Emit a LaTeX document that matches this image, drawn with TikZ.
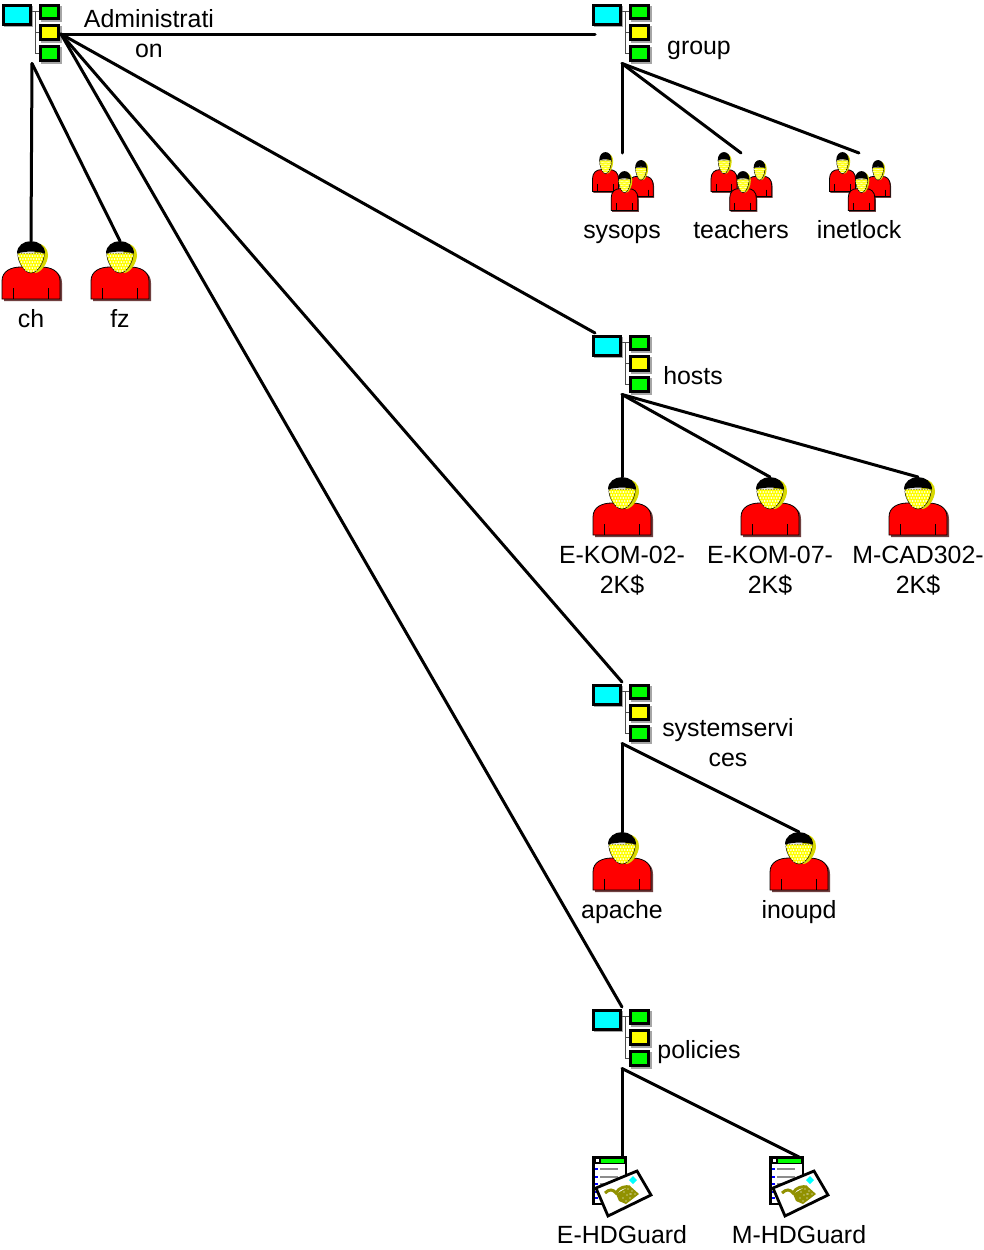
\documentclass[tikz,border=0pt]{standalone}
\usepackage{fontspec}
\setmainfont{Liberation Sans}
\definecolor{cy}{RGB}{0,255,255}
\definecolor{gr}{RGB}{0,255,0}
\definecolor{ye}{RGB}{255,255,0}
\definecolor{re}{RGB}{255,0,0}
\definecolor{ol}{RGB}{145,145,0}
\tikzset{
  x=1pt,y=-1pt,
  lbl/.style={font=\fontsize{24.9}{30}\selectfont,inner sep=0pt,align=center,anchor=base,text=black},
  conn/.style={line width=3pt,black,line cap=round},
  boxx/.style={draw=black,line width=3pt},
  shad/.style={fill=black!35},
  treeicon/.pic={
    \fill[shad] (3.5,6) rectangle (33,27);
    \fill[shad] (41,6) rectangle (62,22);
    \fill[shad] (41,26) rectangle (62,43);
    \fill[shad] (41,47) rectangle (62,64);
    \draw[black!70,line width=1pt] (31,11.5) -- (39,11.5);
    \draw[black!70,line width=1pt] (35,11.5) -- (35,53.5) -- (39,53.5);
    \draw[black!70,line width=1pt] (35,32.5) -- (39,32.5);
    \draw[boxx,fill=cy] (3,5.5) rectangle (30.5,24);
    \draw[boxx,fill=gr] (40.5,5.5) rectangle (58.5,18.5);
    \draw[boxx,fill=ye] (40.5,25.5) rectangle (58.5,39.5);
    \draw[boxx,fill=gr] (40.5,46.5) rectangle (58.5,60.5);
    \coordinate (-r) at (61,34);
    \coordinate (-l) at (5,34);
    \coordinate (-tl) at (5,2);
    \coordinate (-t) at (32,2);
    \coordinate (-b) at (32,63.5);
  },
  person/.pic={
    \fill[black!75!re,opacity=.75] (-27,60) -- (-27,42) .. controls (-27,31) and (-18,28) .. (-8,28) -- (10,28) .. controls (22,28) and (31,31) .. (31,42) -- (31,60) -- cycle;
    \draw[black,line width=.8pt,fill=re] (-29,58) -- (-29,40) .. controls (-29,30) and (-20,26) .. (-10,26) -- (10,26) .. controls (20,26) and (29,30) .. (29,40) -- (29,58) -- cycle;
    \draw[black,line width=.8pt] (-18,47) -- (-18,58) (17,47) -- (17,58);
    \fill[ye!85!black] (3,2) .. controls (13,2) and (17,8) .. (17,14) .. controls (17,22) and (10,32) .. (4,32) -- cycle;
    \draw[black,line width=.5pt,fill=ye] (-13,12) .. controls (-14,20) and (-7,32) .. (0,32) .. controls (7,32) and (14,20) .. (13,12) -- cycle;
    \begin{scope}
      \clip (-13,12) .. controls (-14,20) and (-7,32) .. (0,32) .. controls (7,32) and (14,20) .. (13,12) -- cycle;
      \foreach \yy in {0,1,...,6}{
        \foreach \xx in {-5,...,5}{
          \fill[white] ({\xx*2.7+mod(\yy,2)*1.35},{12+\yy*3}) circle[radius=.9];
        }
      }
    \end{scope}
    \fill[black] (-14,12.5) .. controls (-14,-4) and (14,-4) .. (14,12.5) .. controls (6,10) and (-6,10) .. (-14,12.5) -- cycle;
    \coordinate (-t) at (0,0);
  },
  crowd/.pic={
    \pic[xscale=.45,yscale=.68] at (-16.5,-1) {person};
    \pic[xscale=.42,yscale=.63] at (19,7) {person};
    \pic[xscale=.46,yscale=.68] at (2.5,18) {person};
  },
  docicon/.pic={
    \draw[black,line width=2.6pt,fill=white] (1.5,1.5) rectangle (34,48);
    \fill[black] (1.5,1.5) rectangle (34,8);
    \fill[white] (4,3) rectangle (7,6);
    \fill[gr] (9,2.5) rectangle (32,7);
    \foreach \yy in {13,21,28,36,42}{
      \fill[blue] (3,\yy-1) rectangle (5.5,\yy+1);
      \fill[black!45] (8,\yy-1.2) rectangle (26,\yy+1.2);
    }
    \draw[black,line width=2.8pt,fill=white] (4,32) -- (45,15) -- (59,39) -- (16,60) -- cycle;
    \fill[cy] (41,20) -- (45,24) -- (41,28) -- (37,24) -- cycle;
    \draw[ol,line width=3pt] (13,37) .. controls (17,33) and (21,33) .. (24,37) .. controls (27,31) and (34,30) .. (38,31);
    \fill[ol] (24,38) -- (38,30) -- (47,38) -- (34,48) -- (27,45) -- cycle;
    \foreach \px/\py in {28,38,32/36,36/33,40/35,31/42,35/39,39/38,43/38,34/45,38/42}{
      \fill[white] (\px,\py) circle[radius=.55];
    }
    \coordinate (-t) at (30,1);
  }
}
\begin{document}
\begin{tikzpicture}
\useasboundingbox (0,0) rectangle (984,1250);
\pic (adm) at (0,0) {treeicon};
\pic (grp) at (590,0) {treeicon};
\pic (hst) at (590,331) {treeicon};
\pic (svc) at (590,680) {treeicon};
\pic (pol) at (590,1005) {treeicon};
\pic (ch) at (31,241) {person};
\pic (fz) at (120,241) {person};
\pic (ekom2) at (622,477) {person};
\pic (ekom7) at (770,477) {person};
\pic (mcad) at (918,477) {person};
\pic (apache) at (622,832) {person};
\pic (inoupd) at (799,832) {person};
\pic at (622,153) {crowd};
\pic at (740.5,153) {crowd};
\pic at (859,153) {crowd};
\coordinate (sysops) at (622,153);
\coordinate (teachers) at (741,153);
\coordinate (inetlock) at (859,153);
\pic (ehd) at (592,1156) {docicon};
\pic (mhd) at (769,1156) {docicon};
\draw[conn] (adm-r) -- (grp-l);
\draw[conn] (adm-r) -- (hst-tl);
\draw[conn] (adm-r) -- (svc-t);
\draw[conn] (adm-r) -- (pol-t);
\draw[conn] (adm-b) -- (ch-t);
\draw[conn] (adm-b) -- (fz-t);
\draw[conn] (grp-b) -- (sysops);
\draw[conn] (grp-b) -- (teachers);
\draw[conn] (grp-b) -- (inetlock);
\draw[conn] (hst-b) -- (ekom2-t);
\draw[conn] (hst-b) -- (ekom7-t);
\draw[conn] (hst-b) -- (mcad-t);
\draw[conn] (svc-b) -- (apache-t);
\draw[conn] (svc-b) -- (inoupd-t);
\draw[conn] (pol-b) -- (ehd-t);
\draw[conn] (pol-b) -- (mhd-t);
\node[lbl] (tadm) at (149,57) {Administrati\\on};
\node[lbl] (tgrp) at (699,54) {group};
\node[lbl] (tsys) at (622,238) {sysops};
\node[lbl] (ttea) at (741,238) {teachers};
\node[lbl] (tine) at (859,238) {inetlock};
\node[lbl] (tch) at (31,327) {ch};
\node[lbl] (tfz) at (120,327) {fz};
\node[lbl] (thst) at (693,384) {hosts};
\node[lbl] (te2) at (622,593) {E-KOM-02-\\2K\$};
\node[lbl] (te7) at (770,593) {E-KOM-07-\\2K\$};
\node[lbl] (tm) at (918,593) {M-CAD302-\\2K\$};
\node[lbl] (tsvc) at (728,766) {systemservi\\ces};
\node[lbl] (tap) at (622,918) {apache};
\node[lbl] (tin) at (799,918) {inoupd};
\node[lbl] (tpol) at (699,1058) {policies};
\node[lbl] (teh) at (622,1243) {E-HDGuard};
\node[lbl] (tmh) at (799,1243) {M-HDGuard};
\end{tikzpicture}
\end{document}
